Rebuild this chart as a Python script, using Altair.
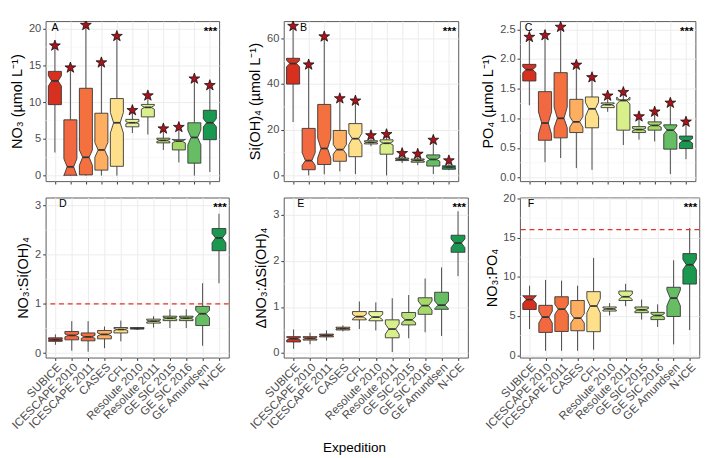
import altair as alt
import pandas as pd

NAMES = ["SUBICE", "ICESCAPE 2010", "ICESCAPE 2011", "CASES", "CFL", "Resolute 2010",
         "Resolute 2011", "GE SIC 2015", "GE SIC 2016", "GE Amundsen", "N-ICE"]
COLORS = ["#d7301f", "#f26841", "#f4703f", "#fdae61", "#fee08b", "#e8f59c",
          "#d9ef8b", "#b7e075", "#a6d96a", "#66bd63", "#1a9850"]

# Panel A: NO3
A_LO = [3.15, 0, 0, 0, 0, 5.8, 5.6, 3.5, 1.8, 0, 0.5]
A_Q1 = [9.67, 0.05, 0.1, 0.75, 1.27, 6.65, 8.0, 4.46, 3.5, 1.7, 4.9]
A_MED = [12.9, 1.2, 2.5, 3.5, 7.2, 7.2, 9.3, 4.8, 4.7, 5.2, 7.2]
A_Q3 = [14.2, 7.6, 11.9, 8.5, 10.5, 7.66, 9.7, 5.1, 4.9, 7.2, 8.9]
A_HI = [17.7, 14.7, 20.5, 15.4, 19.0, 8.9, 10.9, 6.4, 6.6, 13.2, 12.3]
A_NLO = [12.2, 0.0, 1.4, 2.5, 5.8, 7.05, 9.05, 4.65, 4.45, 4.2, 6.65]
A_NHI = [13.6, 2.3, 3.5, 4.5, 8.6, 7.35, 9.55, 4.95, 4.95, 6.2, 7.75]
A_STAR = [17.7, 14.7, 20.5, 15.4, 19.0, 8.9, 10.9, 6.4, 6.6, 13.2, 12.3]

# Panel B: Si(OH)4
B_LO = [23.4, 0, 0.5, 1.8, 0.6, 12.8, 0, 5.4, 4.5, 0.6, 2.3]
B_Q1 = [40, 2.5, 4.8, 6.2, 8.2, 13.8, 9.3, 6.5, 5.8, 4.1, 2.7]
B_MED = [49, 6.5, 11.8, 11.3, 16.1, 14.5, 14.1, 7.0, 6.6, 7.0, 3.7]
B_Q3 = [51.3, 20.6, 31.1, 19.7, 22.7, 15.2, 15.6, 7.6, 7.2, 9.0, 4.2]
B_HI = [65.4, 48.5, 60.8, 33.7, 32.7, 17.5, 18.0, 9.7, 9.4, 15.5, 6.5]
B_NLO = [47.6, 4.4, 7.6, 9.3, 13.5, 14.2, 13.3, 6.8, 6.3, 6.2, 3.5]
B_NHI = [50.4, 10.0, 16.3, 13.5, 18.5, 14.8, 14.9, 7.2, 6.9, 7.9, 3.9]
B_STAR = [65.4, 48.5, 60.8, 33.7, 32.7, 17.5, 18.0, 9.7, 9.4, 15.5, 6.5]

# Panel C: PO4
C_LO = [1.22, 0.26, 0.33, 0.16, 0.13, 1.11, 0.55, 0.64, 0.61, 0.06, 0.31]
C_Q1 = [1.63, 0.63, 0.67, 0.76, 0.84, 1.18, 0.80, 0.76, 0.80, 0.48, 0.49]
C_MED = [1.82, 0.92, 1.0, 0.94, 1.16, 1.23, 1.30, 0.81, 0.88, 0.80, 0.62]
C_Q3 = [1.91, 1.45, 1.77, 1.32, 1.36, 1.26, 1.31, 0.86, 0.94, 0.89, 0.70]
C_HI = [2.37, 2.40, 2.54, 1.90, 1.69, 1.38, 1.44, 1.03, 1.11, 1.26, 0.94]
C_NLO = [1.77, 0.73, 0.84, 0.85, 1.03, 1.21, 1.24, 0.79, 0.85, 0.73, 0.58]
C_NHI = [1.87, 1.11, 1.19, 1.03, 1.27, 1.25, 1.36, 0.83, 0.91, 0.87, 0.66]
C_STAR = [2.37, 2.40, 2.54, 1.90, 1.69, 1.38, 1.44, 1.03, 1.11, 1.26, 0.94]

# Panel D: NO3:Si(OH)4
D_LO = [0.17, 0.05, 0.03, 0.10, 0.24, 0.47, 0.52, 0.51, 0.51, 0.15, 1.42]
D_Q1 = [0.24, 0.27, 0.25, 0.29, 0.41, 0.49, 0.61, 0.66, 0.66, 0.56, 2.08]
D_MED = [0.27, 0.36, 0.33, 0.38, 0.48, 0.50, 0.65, 0.71, 0.71, 0.80, 2.34]
D_Q3 = [0.31, 0.44, 0.41, 0.46, 0.52, 0.52, 0.69, 0.75, 0.75, 0.95, 2.53]
D_HI = [0.38, 0.65, 0.65, 0.54, 0.66, 0.53, 0.75, 0.89, 0.89, 1.42, 2.83]
D_NLO = [0.26, 0.33, 0.30, 0.35, 0.46, 0.495, 0.63, 0.69, 0.69, 0.72, 2.24]
D_NHI = [0.28, 0.39, 0.36, 0.41, 0.50, 0.505, 0.67, 0.73, 0.73, 0.87, 2.43]

# Panel E: dNO3:dSi(OH)4
E_LO = [0.09, 0.19, 0.27, 0.47, 0.52, 0.49, 0.02, 0.32, 0.45, 0.37, 1.67]
E_Q1 = [0.24, 0.28, 0.35, 0.50, 0.72, 0.70, 0.33, 0.61, 0.84, 0.95, 2.19]
E_MED = [0.31, 0.32, 0.38, 0.53, 0.79, 0.78, 0.52, 0.72, 1.03, 1.04, 2.39]
E_Q3 = [0.355, 0.355, 0.41, 0.56, 0.90, 0.90, 0.72, 0.88, 1.20, 1.32, 2.56]
E_HI = [0.51, 0.44, 0.49, 0.60, 1.12, 1.10, 1.19, 1.26, 1.62, 1.86, 3.08]
E_NLO = [0.28, 0.30, 0.37, 0.52, 0.74, 0.72, 0.41, 0.66, 0.93, 0.96, 2.29]
E_NHI = [0.34, 0.34, 0.39, 0.54, 0.84, 0.84, 0.63, 0.79, 1.13, 1.13, 2.48]

# Panel F: NO3:PO4
F_LO = [3.32, 0.57, 0.57, 0.57, 0.7, 5.06, 6.24, 4.54, 3.6, 1.38, 3.2]
F_Q1 = [5.83, 2.91, 3.03, 3.12, 3.0, 5.63, 6.97, 5.42, 4.54, 4.94, 9.07]
F_MED = [7.09, 4.86, 5.87, 4.73, 6.27, 5.9, 7.45, 5.78, 5.06, 7.28, 11.53]
F_Q3 = [7.57, 6.36, 7.45, 6.97, 8.1, 6.15, 8.18, 6.15, 5.46, 8.66, 12.95]
F_HI = [8.86, 9.6, 9.5, 8.86, 12.4, 6.64, 9.1, 7.09, 6.48, 12.1, 16.2]
F_NLO = [6.6, 4.1, 5.2, 4.1, 5.4, 5.75, 7.1, 5.6, 4.85, 6.3, 10.9]
F_NHI = [7.6, 5.6, 6.5, 5.3, 7.2, 6.05, 7.8, 5.95, 5.3, 8.3, 12.2]

FONT = "Liberation Sans"
HW = 0.42
STAR_PATH = ("M0,-1L0.235,-0.324L0.951,-0.309L0.380,0.124L0.588,0.809L0,0.4"
             "L-0.588,0.809L-0.380,0.124L-0.951,-0.309L-0.235,-0.324Z")
LINE = "#333333"


def panel(lo, q1, med, q3, hi, nlo, nhi, star, ydom, yvals, ytitle, letter, letter_dx,
          w, h, xlabels, hline=None, fmt=None, minor=()):
    stats = pd.DataFrame({
        "exp": NAMES, "x": list(range(1, 12)), "lo": lo, "q1": q1, "med": med,
        "q3": q3, "hi": hi,
    })
    stats["ml"] = stats["x"] - HW / 2
    stats["mr"] = stats["x"] + HW / 2
    rows = []
    for i, name in enumerate(NAMES):
        x = i + 1
        pts = [(x - HW, q1[i]), (x - HW, nlo[i]), (x - HW / 2, med[i]), (x - HW, nhi[i]),
               (x - HW, q3[i]), (x + HW, q3[i]), (x + HW, nhi[i]), (x + HW / 2, med[i]),
               (x + HW, nlo[i]), (x + HW, q1[i]), (x - HW, q1[i])]
        for k, (px, py) in enumerate(pts):
            rows.append({"exp": name, "px": px, "py": py, "o": k})
    poly = pd.DataFrame(rows)

    label_expr = "[" + ",".join("'%s'" % n for n in NAMES) + "][datum.value - 1]"
    xaxis = alt.Axis(values=list(range(1, 12)), labels=xlabels, labelExpr=label_expr,
                     labelAngle=-45 if xlabels else 0, labelFontSize=12, labelColor="#4d4d4d",
                     labelOverlap=False, labelBound=False, labelFlush=False,
                     tickColor=LINE, tickSize=3, domain=False, grid=True, gridColor="#ebebeb",
                     labelPadding=1, title=None)
    yaxis_kw = dict(values=yvals, labelFontSize=11.5, labelColor="#4d4d4d", tickColor=LINE,
                    tickSize=3, domain=False, grid=True, gridColor="#ebebeb", labelPadding=2,
                    title=ytitle, titleFontSize=15, titleFontWeight="normal",
                    titleColor="black", titlePadding=4, labelFlush=False)
    if fmt:
        yaxis_kw["format"] = fmt
    yaxis = alt.Axis(**yaxis_kw)
    xsc = alt.Scale(domain=[0.4, 11.6], nice=False, zero=False)
    ysc = alt.Scale(domain=ydom, nice=False, zero=False)

    def X(f):
        return alt.X(f, type="quantitative", scale=xsc, axis=xaxis)

    def Y(f):
        return alt.Y(f, type="quantitative", scale=ysc, axis=yaxis)

    layers = []
    if minor:
        layers.append(alt.Chart(pd.DataFrame({"m": list(minor)})).mark_rule(
            color="#f4f4f4", strokeWidth=0.6).encode(y=Y("m")))
    whisk_lo = alt.Chart(stats).mark_rule(color=LINE, strokeWidth=0.9).encode(
        x=X("x"), y=Y("lo"), y2="q1")
    whisk_hi = alt.Chart(stats).mark_rule(color=LINE, strokeWidth=0.9).encode(
        x=X("x"), y=Y("q3"), y2="hi")
    layers += [whisk_lo, whisk_hi]
    boxes = alt.Chart(poly).mark_line(stroke=LINE, strokeWidth=0.9, strokeJoin="miter").encode(
        x=X("px"), y=Y("py"), order=alt.Order("o:Q"), detail="exp:N",
        fill=alt.Fill("exp:N", scale=alt.Scale(domain=NAMES, range=COLORS), legend=None))
    medians = alt.Chart(stats).mark_rule(color=LINE, strokeWidth=1.8).encode(
        x=X("ml"), x2="mr", y=Y("med"))
    layers += [boxes, medians]
    if star is not None:
        sdf = pd.DataFrame({"x": list(range(1, 12)), "s": star})
        layers.append(alt.Chart(sdf).mark_point(
            shape=STAR_PATH, size=140, filled=True, fill="#a8141c", stroke="black",
            strokeWidth=0.7, opacity=1, clip=True).encode(x=X("x"), y=Y("s")))
    if hline is not None:
        layers.append(alt.Chart(pd.DataFrame({"hl": [hline]})).mark_rule(
            color="#e8302a", strokeDash=[5, 4], strokeWidth=1.3).encode(y=Y("hl")))
    one = pd.DataFrame({"a": [0]})
    layers.append(alt.Chart(one).mark_text(
        align="left", baseline="middle", fontSize=11, color="black", font=FONT).encode(
        x=alt.value(letter_dx), y=alt.value(7), text=alt.value(letter)))
    layers.append(alt.Chart(one).mark_text(
        align="right", baseline="middle", fontSize=12, fontWeight="bold", color="black",
        font=FONT).encode(x=alt.value(w - 2), y=alt.value(10), text=alt.value("***")))
    return alt.layer(*layers).properties(width=w, height=h)


def spacer(w):
    return alt.Chart(pd.DataFrame({"a": [0]})).mark_point(opacity=0, size=1).encode(
        x=alt.value(0), y=alt.value(0)).properties(
        width=w, height=1, view=alt.ViewBackground(stroke="transparent"))


pA = panel(A_LO, A_Q1, A_MED, A_Q3, A_HI, A_NLO, A_NHI, A_STAR, [-0.75, 21.05],
           [0, 5, 10, 15, 20], "NO\u2083 (\u00b5mol L\u207b\u00b9)", "A", 6, 180, 166, False,
           minor=[2.5, 7.5, 12.5, 17.5])
pB = panel(B_LO, B_Q1, B_MED, B_Q3, B_HI, B_NLO, B_NHI, B_STAR, [-2.5, 67.6],
           [0, 20, 40, 60], "Si(OH)\u2084 (\u00b5mol L\u207b\u00b9)", "B", 17, 181, 166, False,
           minor=[10, 30, 50])
pC = panel(C_LO, C_Q1, C_MED, C_Q3, C_HI, C_NLO, C_NHI, C_STAR, [-0.06, 2.64],
           [0, 0.5, 1.0, 1.5, 2.0, 2.5], "PO\u2084 (\u00b5mol L\u207b\u00b9)", "C", 5, 182, 166,
           False, fmt=".1f", minor=[0.25, 0.75, 1.25, 1.75, 2.25])
pD = panel(D_LO, D_Q1, D_MED, D_Q3, D_HI, D_NLO, D_NHI, None, [-0.09, 3.16],
           [0, 1, 2, 3], "NO\u2083:Si(OH)\u2084", "D", 14, 190, 166, True, hline=1,
           minor=[0.5, 1.5, 2.5])
pE = panel(E_LO, E_Q1, E_MED, E_Q3, E_HI, E_NLO, E_NHI, None, [-0.1, 3.38],
           [0, 1, 2, 3], "\u0394NO\u2083:\u0394Si(OH)\u2084", "E", 14, 191, 166, True,
           minor=[0.5, 1.5, 2.5])
pF = panel(F_LO, F_Q1, F_MED, F_Q3, F_HI, F_NLO, F_NHI, None, [-0.3, 20.1],
           [0, 5, 10, 15, 20], "NO\u2083:PO\u2084", "F", 8, 186, 166, True, hline=16,
           minor=[2.5, 7.5, 12.5, 17.5])

items = [spacer(9), pA, spacer(57), pB, spacer(54), pC,
         spacer(1), pD, spacer(40), pE, spacer(53), pF]

chart = alt.concat(*items, columns=6, spacing={"row": 17, "column": 0}).properties(
    bounds="flush", align="none",
    title=alt.TitleParams("Expedition", orient="bottom", anchor="middle", fontSize=14,
                          fontWeight="normal", font=FONT, color="black", offset=11),
    padding={"left": 0, "top": 4, "right": 5, "bottom": 5},
).configure(font=FONT).configure_view(stroke="#555555", strokeWidth=1)

chart.save("out.html", embed_options={"renderer": "svg", "actions": False})
